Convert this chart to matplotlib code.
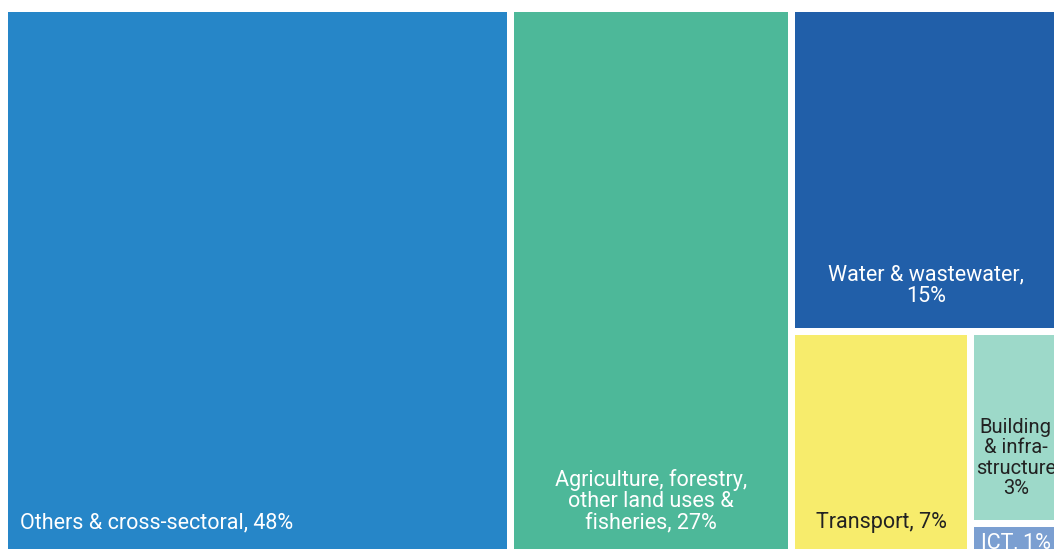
import matplotlib.pyplot as plt
from matplotlib.patches import Rectangle

plt.rcParams['font.family'] = ['Roboto', 'DejaVu Sans']

# sector shares (area of each tile), labels as printed
labels = ['Others & cross-sectoral, 48%',
          'Agriculture, forestry,\nother land uses &\nfisheries, 27%',
          'Water & wastewater,\n15%',
          'Transport, 7%',
          'Building\n& infra-\nstructure\n3%',
          'ICT, 1%']
values = [48, 26.7, 15, 7, 3, 0.53]
colors = ['#2686c8', '#4db899', '#215fa9', '#f7ec6c', '#9dd9c9', '#7b9fd1']
text_colors = ['white', 'white', 'white', '#222222', '#222222', 'white']
aligns = ['left', 'center', 'center', 'center', 'center', 'center']
sizes = [15.5, 15.5, 15.5, 15.5, 14.5, 15.5]

GAP = 7
X0, Y0 = 8, 12
UNIT = 10.54          # px of width per unit of value at the top level
HEIGHT = 549


def split(x, y, w, h, vals, horizontal):
    """slice a box into pieces proportional to vals"""
    total = sum(vals)
    out = []
    pos = x if horizontal else y
    for v in vals:
        if horizontal:
            s = w * v / total
            out.append((pos, y, s, h))
        else:
            s = h * v / total
            out.append((x, pos, w, s))
        pos += s
    return out


total_w = sum(values) * UNIT
# level 1: others | agriculture | rest
lvl1 = split(X0, Y0, total_w, HEIGHT, [values[0], values[1], sum(values[2:])], True)
# rest: water over the bottom block
lvl2 = split(*lvl1[2], [values[2], sum(values[3:])], False)
# bottom block: transport | small
lvl3 = split(*lvl2[1], [values[3], sum(values[4:])], True)
# small: building over ict
lvl4 = split(*lvl3[1], [values[4], values[5]], False)

boxes = [lvl1[0], lvl1[1], lvl2[0], lvl3[0], lvl4[0], lvl4[1]]

fig = plt.figure(figsize=(10.54, 5.49), dpi=100)
ax = fig.add_axes([0, 0, 1, 1])
ax.set_xlim(0, 1054)
ax.set_ylim(549, 0)
ax.axis('off')

for (x, y, w, h), lab, c, tc, al, fs in zip(boxes, labels, colors, text_colors, aligns, sizes):
    ax.add_patch(Rectangle((x, y), w - GAP, h - GAP, facecolor=c, edgecolor='none'))
    tx = x + 12 if al == 'left' else x + (w - GAP) / 2
    ty = y + h - GAP - 26
    if h < 60:
        # thin tile: label hangs from the top
        ty = y + 21
    ax.text(tx, ty, lab, color=tc, fontsize=fs, ha=al, va='baseline',
            multialignment='center', linespacing=1.09 if fs < 15.5 else 1.0)

fig.savefig('out.png', dpi=100)
